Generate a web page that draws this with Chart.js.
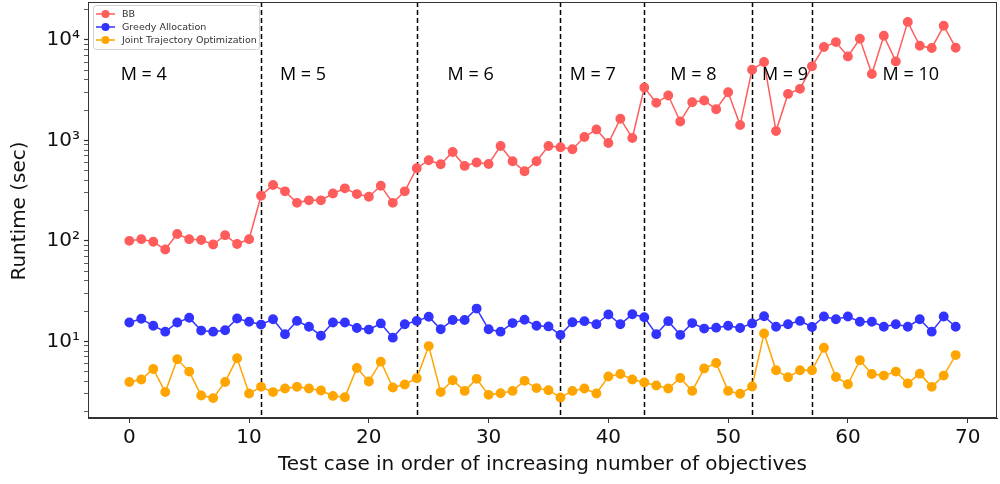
<!DOCTYPE html>
<html>
<head>
<meta charset="utf-8">
<script src="https://cdn.jsdelivr.net/npm/chart.js@4/dist/chart.umd.min.js"></script>
<style>
  html, body { margin: 0; padding: 0; background: #fff; }
  #wrap { width: 1000px; height: 484px; }
</style>
</head>
<body>
<div id="wrap"><canvas id="runtimeChart" width="1000" height="484"></canvas></div>
<script>
// test case index (x)
const testCases = [
  0, 1, 2, 3, 4, 5, 6, 7, 8, 9, 10, 11, 12, 13, 14, 15, 16, 17, 18, 19,
  20, 21, 22, 23, 24, 25, 26, 27, 28, 29, 30, 31, 32, 33, 34, 35, 36, 37, 38, 39,
  40, 41, 42, 43, 44, 45, 46, 47, 48, 49, 50, 51, 52, 53, 54, 55, 56, 57, 58, 59,
  60, 61, 62, 63, 64, 65, 66, 67, 68, 69
];

// runtimes in seconds
const bbRuntime = [
  100, 104, 98, 82, 117, 104, 102, 92, 114, 93, 104,
  281, 360, 311, 239, 253, 253, 296, 333, 292, 275, 353, 239, 311,
  528, 634, 578, 766, 557, 601, 582, 879, 619, 493, 619, 879,
  853, 815, 1079, 1285, 940, 1641, 1054,
  3349, 2361, 2790, 1541, 2395, 2489, 2041, 3006, 1419,
  5049, 6010, 1236, 2896, 3252,
  5446, 8470, 9490, 6840, 10230, 4570, 10960, 6100, 15070, 8730, 8280, 13780, 8340
];
const greedyRuntime = [
  15.4, 16.8, 14.3, 12.5, 15.4, 17.2, 12.8, 12.5, 12.9, 16.9, 15.7,
  14.7, 16.6, 11.8, 16.0, 14.0, 11.4, 15.4, 15.4, 13.6, 13.1, 15.1, 10.9, 14.8,
  16.0, 17.6, 13.2, 16.3, 16.3, 21.2, 13.2, 12.5, 15.2, 16.4, 14.3, 14.1,
  11.6, 15.5, 15.9, 14.8, 18.5, 14.8, 18.6,
  17.4, 11.8, 15.9, 11.6, 15.2, 13.4, 13.7, 14.3, 13.6,
  15.1, 17.8, 14.0, 14.8, 16.0,
  13.9, 17.7, 16.6, 17.7, 15.7, 15.7, 14.0, 14.8, 14.0, 16.6, 12.5, 17.7, 14.0
];
const jtoRuntime = [
  3.95, 4.18, 5.32, 3.13, 6.64, 5.01, 2.90, 2.73, 3.95, 6.79, 3.03,
  3.53, 3.13, 3.40, 3.53, 3.40, 3.25, 2.87, 2.79, 5.44, 3.99, 6.29, 3.48, 3.73,
  4.30, 8.98, 3.13, 4.11, 3.22, 4.24, 2.94, 3.05, 3.22, 4.05, 3.43, 3.27,
  2.77, 3.22, 3.40, 3.03, 4.47, 4.74, 4.18,
  3.90, 3.64, 3.40, 4.33, 3.22, 5.37, 6.10, 3.22, 3.01,
  3.56, 12.0, 5.16, 4.40, 5.16,
  5.16, 8.66, 4.43, 3.75, 6.49, 4.74, 4.57, 5.01, 3.81, 4.78, 3.53, 4.57, 7.31
];

// group boundaries (first test case with a new M) and group labels
const groupStarts = [11, 24, 36, 43, 52, 57];
const groupLabels = ["M = 4", "M = 5", "M = 6", "M = 7", "M = 8", "M = 9", "M = 10"];
const groupLabelX = [1.2, 14.5, 28.5, 38.7, 47.1, 54.75, 65.25];
const groupLabelY = 4500;

const xTicks = [0, 10, 20, 30, 40, 50, 60, 70];
const seriesNames = ["BB", "Greedy Allocation", "Joint Trajectory Optimization"];
const seriesColors = ["#ff5c5c", "#3333ff", "#ffa500"];

const SUP = { "0": "\u2070", "1": "\u00b9", "2": "\u00b2", "3": "\u00b3", "4": "\u2074" };

// frame, dashed group lines, group labels, axis titles, legend
const decorPlugin = {
  id: "decor",
  beforeDatasetsDraw(chart) {
    const { ctx, chartArea: a, scales } = chart;
    ctx.save();
    ctx.strokeStyle = "#000";
    ctx.lineWidth = 1.5;
    ctx.setLineDash([5, 3]);
    groupStarts.forEach(v => {
      const px = Math.round(scales.x.getPixelForValue(v)) + 0.5;
      ctx.beginPath();
      ctx.moveTo(px, a.top);
      ctx.lineTo(px, a.bottom);
      ctx.stroke();
    });
    ctx.restore();
  },
  afterDatasetsDraw(chart) {
    const { ctx, chartArea: a, scales } = chart;
    ctx.save();

    // frame
    ctx.strokeStyle = "#333";
    ctx.lineWidth = 1;
    ctx.strokeRect(a.left + 0.5, a.top + 0.5, a.right - a.left - 1, a.bottom - a.top - 1);

    // M = ... labels
    ctx.fillStyle = "#000";
    ctx.font = "18px 'Open Sans'";
    ctx.textAlign = "center";
    ctx.textBaseline = "middle";
    groupLabels.forEach((t, i) => {
      ctx.fillText(t, scales.x.getPixelForValue(groupLabelX[i]), scales.y.getPixelForValue(groupLabelY));
    });

    // axis titles
    ctx.font = "20px 'DejaVu Sans'";
    ctx.fillStyle = "#111";
    ctx.fillText("Test case in order of increasing number of objectives", (a.left + a.right) / 2, 465);
    ctx.translate(20, 211);
    ctx.rotate(-Math.PI / 2);
    ctx.fillText("Runtime (sec)", 0, 0);
    ctx.setTransform(1, 0, 0, 1, 0, 0);

    // legend
    const lx = a.left + 5, ly = a.top + 3, lw = 166, lh = 44;
    ctx.fillStyle = "rgba(255,255,255,0.85)";
    ctx.strokeStyle = "#d0d0d0";
    ctx.lineWidth = 1;
    ctx.beginPath();
    ctx.roundRect(lx + 0.5, ly + 0.5, lw, lh, 3);
    ctx.fill();
    ctx.stroke();
    ctx.font = "9.5px 'DejaVu Sans'";
    ctx.textAlign = "left";
    seriesNames.forEach((name, i) => {
      const yy = ly + 9 + i * 13;
      ctx.strokeStyle = seriesColors[i];
      ctx.lineWidth = 1.5;
      ctx.beginPath();
      ctx.moveTo(lx + 3, yy);
      ctx.lineTo(lx + 22, yy);
      ctx.stroke();
      ctx.fillStyle = seriesColors[i];
      ctx.beginPath();
      ctx.arc(lx + 12.5, yy, 4, 0, Math.PI * 2);
      ctx.fill();
      ctx.fillStyle = "#333";
      ctx.fillText(name, lx + 29, yy + 1);
    });
    ctx.restore();
  }
};

function lineSet(label, data, color) {
  return {
    label: label,
    data: data,
    borderColor: color,
    backgroundColor: color,
    pointBackgroundColor: color,
    pointBorderColor: color,
    borderWidth: 1.5,
    pointRadius: 4.2,
    pointHoverRadius: 4.2,
    tension: 0
  };
}

new Chart(document.getElementById("runtimeChart"), {
  type: "line",
  data: {
    labels: testCases,
    datasets: [
      lineSet(seriesNames[0], bbRuntime, seriesColors[0]),
      lineSet(seriesNames[1], greedyRuntime, seriesColors[1]),
      lineSet(seriesNames[2], jtoRuntime, seriesColors[2])
    ]
  },
  options: {
    responsive: false,
    animation: false,
    devicePixelRatio: 1,
    layout: { autoPadding: false, padding: { top: 2, right: 3, left: 0, bottom: 0 } },
    plugins: { legend: { display: false }, tooltip: { enabled: false } },
    scales: {
      x: {
        type: "linear",
        min: -3.45,
        max: 72.45,
        afterFit: s => { s.height = 66; s.paddingLeft = 0; s.paddingRight = 0; },
        afterBuildTicks: s => { s.ticks = xTicks.map(v => ({ value: v })); },
        grid: { drawOnChartArea: false, drawTicks: true, tickLength: 5, tickColor: "#333" },
        border: { display: true, color: "#333", width: 1 },
        ticks: {
          autoSkip: false,
          maxRotation: 0,
          padding: 3,
          color: "#111",
          font: { family: "'DejaVu Sans'", size: 20 }
        }
      },
      y: {
        type: "logarithmic",
        min: 1.73,
        max: 23770,
        afterFit: s => { s.width = 88; s.paddingTop = 0; s.paddingBottom = 0; },
        afterBuildTicks: s => {
          const t = [];
          for (let e = 0; e <= 4; e++) {
            for (let m = 1; m <= 9; m++) {
              const v = m * Math.pow(10, e);
              if (v >= s.min && v <= s.max) t.push({ value: v, major: m === 1 });
            }
          }
          s.ticks = t;
        },
        grid: {
          drawOnChartArea: false,
          drawTicks: true,
          tickLength: 4,
          tickColor: "#333",
          tickWidth: c => (c.tick && c.tick.major ? 1.2 : 0.8)
        },
        border: { display: true, color: "#333", width: 1 },
        ticks: {
          autoSkip: false,
          padding: 4,
          color: "#111",
          font: { family: "'DejaVu Sans'", size: 20 },
          callback: v => {
            const e = Math.log10(v);
            if (Math.abs(e - Math.round(e)) < 1e-9) return "10" + SUP[String(Math.round(e))];
            return "";
          }
        }
      }
    }
  },
  plugins: [decorPlugin]
});
</script>
</body>
</html>
